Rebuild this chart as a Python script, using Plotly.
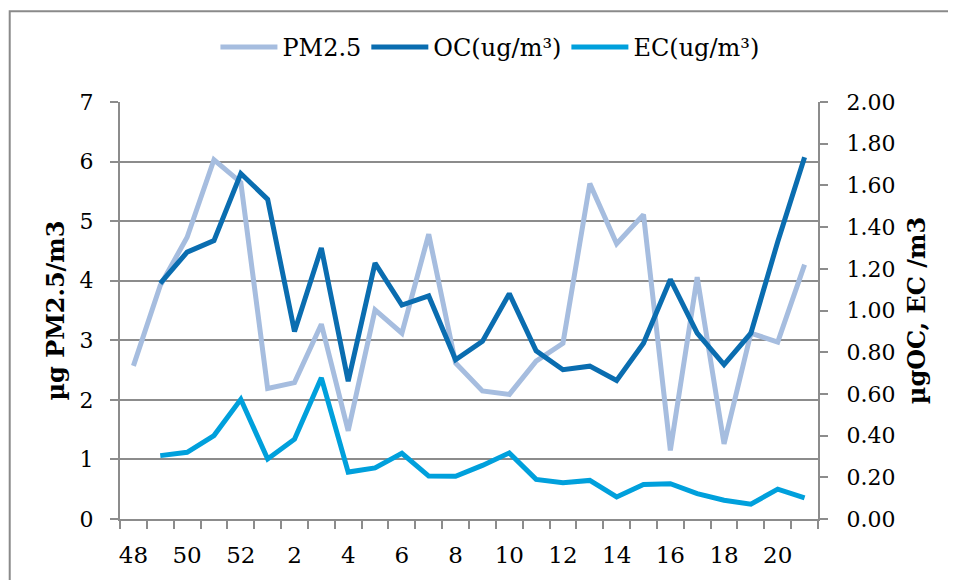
import plotly.graph_objects as go

weeks = ["48", "49", "50", "51", "52", "1", "2", "3", "4", "5", "6", "7", "8",
         "9", "10", "11", "12", "13", "14", "15", "16", "17", "18", "19", "20", "21"]

pm25 = [2.57, 3.92, 4.73, 6.03, 5.65, 2.19, 2.29, 3.27, 1.48, 3.51, 3.12, 4.78, 2.62,
        2.15, 2.09, 2.65, 2.95, 5.63, 4.62, 5.11, 1.15, 4.06, 1.26, 3.12, 2.97, 4.27]

oc = [None, 1.13, 1.28, 1.335, 1.657, 1.533, 0.899, 1.30, 0.661, 1.227, 1.026, 1.07, 0.764,
      0.852, 1.081, 0.807, 0.716, 0.733, 0.664, 0.843, 1.149, 0.891, 0.74, 0.891, 1.33, 1.735]

ec = [None, 0.304, 0.32, 0.40, 0.574, 0.288, 0.383, 0.677, 0.225, 0.245, 0.315, 0.206, 0.205,
      0.257, 0.317, 0.19, 0.174, 0.185, 0.106, 0.165, 0.169, 0.122, 0.09, 0.071, 0.143, 0.101]

x = list(range(len(weeks)))
serif = "DejaVu Serif"
grid_col = "#8c8c8c"

fig = go.Figure()
fig.add_trace(go.Scatter(x=x, y=pm25, name="PM2.5", mode="lines",
                         line=dict(color="#a6bddf", width=5)))
fig.add_trace(go.Scatter(x=x, y=oc, name="OC(ug/m³)", mode="lines", yaxis="y2",
                         line=dict(color="#0a6db0", width=5)))
fig.add_trace(go.Scatter(x=x, y=ec, name="EC(ug/m³)", mode="lines", yaxis="y2",
                         line=dict(color="#00a0dc", width=5)))

# page body has an 8px margin, so the figure is a bit smaller than the window
fig.update_layout(
    width=948, height=572,
    margin=dict(l=112, r=138, t=94, b=58),
    paper_bgcolor="white", plot_bgcolor="white",
    font=dict(family=serif, color="black", size=22),
    showlegend=True,
    legend=dict(orientation="h", x=0.53, xanchor="center", y=1.131, yanchor="middle",
                font=dict(size=24), itemwidth=57, bgcolor="rgba(0,0,0,0)"),
    xaxis=dict(
        range=[-0.5, len(weeks) - 0.5],
        tickvals=x[::2], ticktext=weeks[::2],
        ticks="", ticklabelstandoff=14,
        tickfont=dict(size=23),
        showgrid=False, zeroline=False,
        showline=True, linecolor=grid_col, linewidth=2,
        minor=dict(tick0=-0.5, dtick=1, ticks="outside", ticklen=8,
                   tickcolor=grid_col, tickwidth=2, showgrid=False),
    ),
    yaxis=dict(
        range=[0, 7], dtick=1,
        ticks="outside", ticklen=8, tickcolor=grid_col, tickwidth=2,
        ticklabelstandoff=12,
        showgrid=True, gridcolor=grid_col, gridwidth=2, zeroline=False,
        showline=True, linecolor=grid_col, linewidth=2,
        title=dict(text="<b>µg PM2.5/m3</b>", font=dict(size=24), standoff=8),
        automargin=False,
    ),
    yaxis2=dict(
        range=[0, 2], dtick=0.2, tickformat=".2f",
        overlaying="y", side="right",
        ticks="outside", ticklen=8, tickcolor=grid_col, tickwidth=2,
        ticklabelstandoff=14,
        showgrid=False, zeroline=False,
        showline=True, linecolor=grid_col, linewidth=2,
        title=dict(text="<b>µgOC, EC /m3</b>", font=dict(size=24), standoff=14),
        automargin=False,
    ),
    shapes=[dict(type="rect", xref="paper", yref="paper",
                 x0=-0.158, x1=1.21, y0=-0.16, y1=1.2177,
                 line=dict(color="#8a8a8a", width=2), layer="below")],
)

fig.write_html("out.html")
